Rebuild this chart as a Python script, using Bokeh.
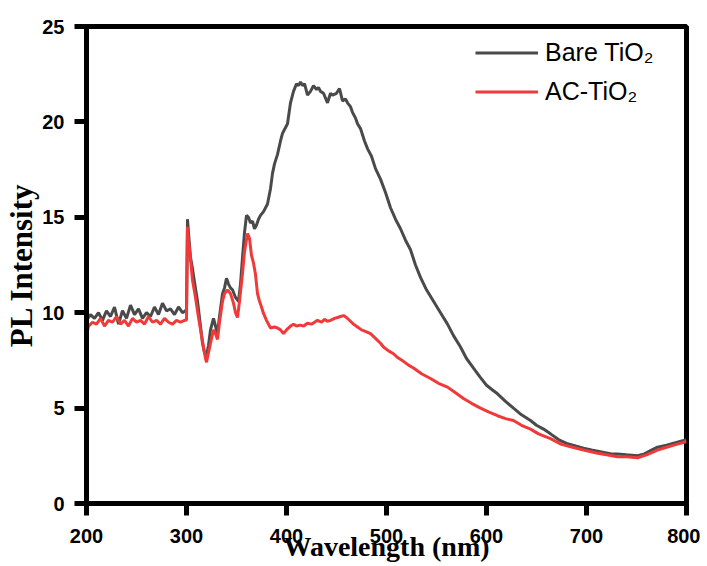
from bokeh.plotting import figure
from bokeh.models import Range1d, FixedTicker, Legend, LegendItem
from bokeh.embed import file_html
from bokeh.resources import INLINE

# ---- data ----
bare_wl = [200,204,208,212,216,220,224,228,232,236,240,244,248,252,256,260,264,268,272,276,280,284,288,292,296,299,
           300,301,302,304,306,308,311,314,316,318,320,322,324,326,327,329,331,333,336,338,340,342,344,346,349,352,354,356,358,360,
           362,364,366,368,370,372,374,377,381,384,386,388,391,394,396,398,401,404,407,410,412,414,416,418,421,424,427,430,432,434,
           437,441,444,446,450,453,456,459,461,464,466,469,471,474,478,481,485,489,494,499,504,509,514,519,524,529,534,540,547,554,
           561,567,574,580,587,594,600,606,611,619,627,635,644,650,657,664,672,680,690,697,705,715,725,731,740,751,758,765,771,780,
           790,797,800]
bare_pl = [9.6,9.9,9.7,10.0,9.6,10.1,9.8,10.3,9.4,10.1,9.7,10.4,9.9,10.2,9.7,10.0,9.8,10.3,9.9,10.5,10.1,10.2,9.9,10.3,10.0,10.1,
           10.2,14.9,14.2,12.9,12.3,11.6,10.6,9.3,8.4,7.9,7.7,8.3,9.1,9.5,9.7,9.3,8.9,9.8,11.0,11.3,11.8,11.5,11.3,11.2,10.8,10.6,11.5,12.9,14.2,15.1,
           15.0,14.7,14.8,14.4,14.6,14.9,15.1,15.3,15.7,16.5,17.3,17.8,18.3,19.0,19.4,19.6,19.9,21.0,21.6,22.0,21.9,22.1,21.9,22.0,21.4,21.6,21.9,21.7,21.8,21.6,
           21.5,21.0,21.5,21.4,21.5,21.75,21.1,21.2,21.0,20.8,20.5,20.2,19.9,19.65,19.0,18.6,18.2,17.55,17.0,16.3,15.5,14.9,14.4,13.8,13.3,12.5,11.85,11.2,10.6,10.0,
           9.4,8.8,8.2,7.6,7.1,6.6,6.2,5.95,5.75,5.35,5.0,4.65,4.35,4.1,3.9,3.65,3.35,3.15,3.0,2.9,2.8,2.7,2.6,2.6,2.55,2.5,2.6,2.8,2.95,3.05,
           3.2,3.3,3.35]

ac_wl = [200,202,206,210,214,218,222,226,230,234,238,242,246,250,254,258,262,266,270,274,278,282,286,290,294,298,
         300,301,302,304,306,309,312,315,317,319,320,322,324,327,329,331,333,336,338,341,344,347,349,351,353,356,358,361,363,365,
         367,369,371,373,375,377,380,384,388,391,394,397,400,404,407,410,414,417,421,425,428,431,435,438,441,444,448,451,454,457,
         460,464,467,471,475,480,484,490,494,497,502,507,511,517,522,527,535,544,552,561,569,577,585,594,602,611,619,627,635,644,
         652,664,675,686,697,710,720,731,740,751,760,771,780,790,797,800]
ac_pl = [8.8,9.3,9.5,9.4,9.7,9.3,9.6,9.5,9.8,9.4,9.6,9.3,9.7,9.5,9.6,9.4,9.8,9.5,9.6,9.4,9.7,9.5,9.4,9.6,9.5,9.6,
         9.6,14.5,13.8,12.8,11.7,10.8,9.75,8.8,8.2,7.6,7.4,7.9,8.4,9.1,8.9,8.6,9.5,10.6,11.0,11.2,11.0,10.5,10.0,9.75,10.6,12.05,13.2,14.15,13.9,13.0,
         12.6,12.0,11.0,10.6,10.3,9.96,9.6,9.2,9.25,9.2,9.1,8.9,9.1,9.3,9.4,9.3,9.35,9.3,9.45,9.4,9.5,9.6,9.5,9.65,9.55,9.6,9.7,9.75,9.8,9.85,
         9.75,9.55,9.4,9.25,9.1,9.0,8.9,8.6,8.4,8.2,8.0,7.85,7.65,7.45,7.25,7.1,6.8,6.55,6.3,6.1,5.8,5.5,5.25,5.0,4.8,4.6,4.45,4.35,4.1,3.9,
         3.65,3.4,3.1,2.95,2.8,2.65,2.55,2.45,2.45,2.4,2.55,2.8,2.95,3.1,3.2,3.25]

x_ticks = [200, 300, 400, 500, 600, 700, 800]
y_ticks = [0, 5, 10, 15, 20, 25]
series_names = ["Bare TiO\u2082", "AC-TiO\u2082"]
x_title = "Wavelength (nm)"
y_title = "PL Intensity"

p = figure(width=700, height=566, output_backend="svg", toolbar_location=None,
           x_range=Range1d(200, 800), y_range=Range1d(0, 25),
           min_border_left=86, min_border_right=14, min_border_top=26, min_border_bottom=63)

p.background_fill_color = "white"
p.border_fill_color = "white"
p.grid.visible = False
p.outline_line_color = "black"
p.outline_line_width = 5
p.outline_line_alpha = 1.0

for ax in (p.xaxis[0], p.yaxis[0]):
    ax.axis_line_width = 5
    ax.axis_line_color = "black"
    ax.major_tick_line_width = 5
    ax.major_tick_line_color = "black"
    ax.major_tick_in = 0
    ax.major_tick_out = 12
    ax.minor_tick_in = 0
    ax.minor_tick_out = 0
    ax.major_label_text_font = "Liberation Sans"
    ax.major_label_text_font_style = "bold"
    ax.major_label_text_font_size = "20px"
    ax.major_label_text_color = "black"
    ax.axis_label_text_font = "Liberation Serif"
    ax.axis_label_text_font_style = "bold"
    ax.axis_label_text_color = "black"

p.xaxis[0].ticker = FixedTicker(ticks=x_ticks)
p.yaxis[0].ticker = FixedTicker(ticks=y_ticks)

p.yaxis[0].major_label_standoff = 10
p.yaxis[0].axis_label = y_title
p.yaxis[0].axis_label_text_font_size = "31px"
p.yaxis[0].axis_label_standoff = 0

p.xaxis[0].major_label_standoff = 13
p.xaxis[0].axis_label = x_title
p.xaxis[0].axis_label_text_font_size = "28px"
p.xaxis[0].axis_label_standoff = -15

r1 = p.line(bare_wl, bare_pl, line_color="#4a4a4a", line_width=3)
r2 = p.line(ac_wl, ac_pl, line_color="#f03a3a", line_width=3)

legend = Legend(items=[LegendItem(label=series_names[0], renderers=[r1]),
                       LegendItem(label=series_names[1], renderers=[r2])],
                location=(389, 392), orientation="vertical",
                padding=0, margin=0, spacing=0,
                glyph_width=63, glyph_height=39, label_height=39,
                label_standoff=7,
                label_text_font="Liberation Sans", label_text_font_size="25px",
                label_text_color="black",
                border_line_color=None, background_fill_alpha=0)
p.add_layout(legend)

open("out.html", "w").write(file_html(p, INLINE))
